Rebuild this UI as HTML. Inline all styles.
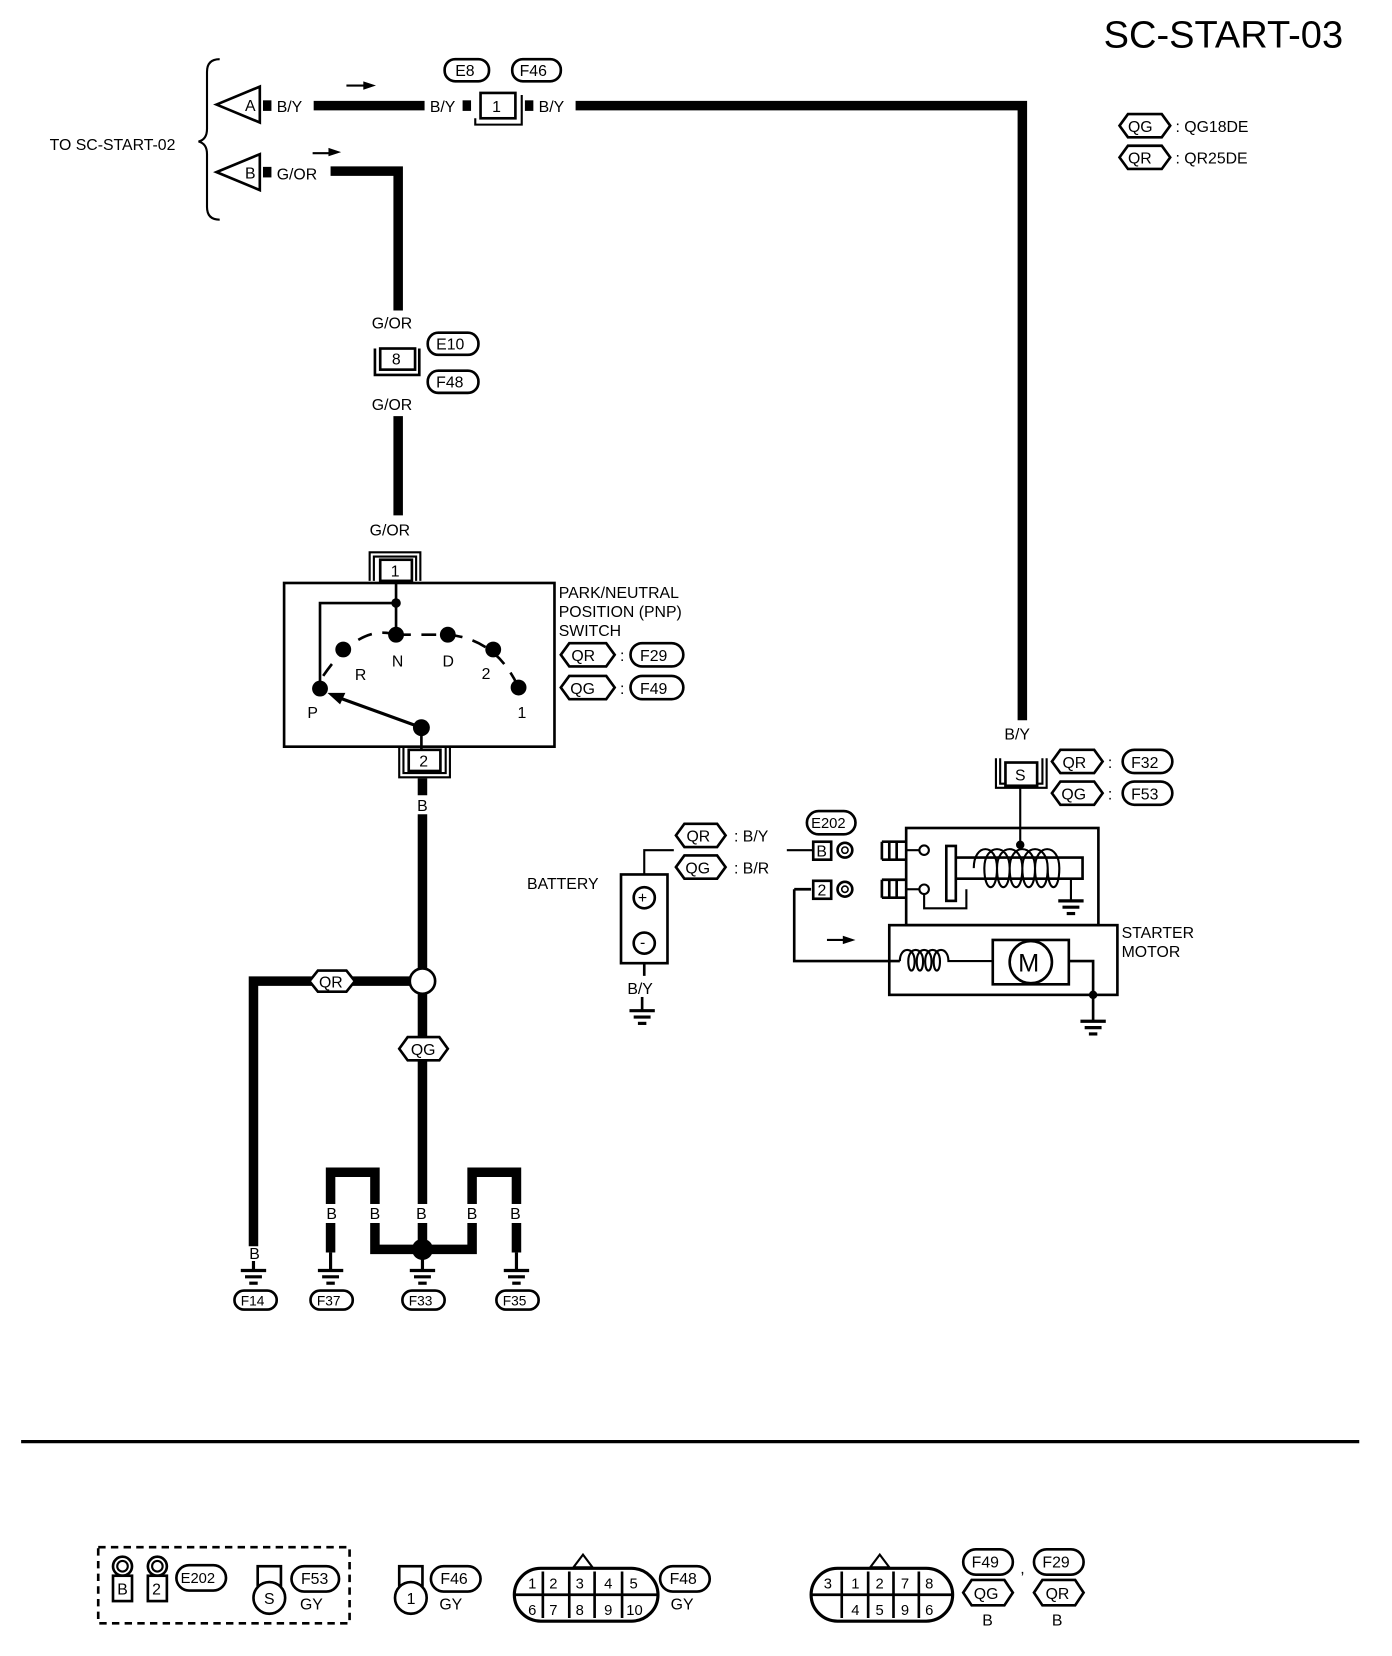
<!DOCTYPE html>
<html><head><meta charset="utf-8"><style>
html,body{margin:0;padding:0;background:#fff}
svg{display:block}
text{font-family:"Liberation Sans",sans-serif;fill:#000}
</style></head><body>
<svg width="1392" height="1656" viewBox="0 0 1318 1568" preserveAspectRatio="none" xmlns="http://www.w3.org/2000/svg">
<defs>
<g id="gnd"><line x1="-12" y1="0" x2="12" y2="0" stroke="#000" stroke-width="3"/><line x1="-8" y1="6" x2="8" y2="6" stroke="#000" stroke-width="3"/><line x1="-4" y1="12" x2="4" y2="12" stroke="#000" stroke-width="3"/></g>
</defs>
<rect width="1318" height="1568" fill="#fff"/>
<g font-size="15">
<!-- title -->
<text x="1045" y="45" font-size="36">SC-START-03</text>
<!-- legend -->
<polygon points="1060,119 1068,108 1100,108 1108,119 1100,130 1068,130" fill="none" stroke="#000" stroke-width="2.5"/>
<text x="1068" y="125">QG</text><text x="1113" y="125">: QG18DE</text>
<polygon points="1060,149 1068,138 1100,138 1108,149 1100,160 1068,160" fill="none" stroke="#000" stroke-width="2.5"/>
<text x="1068" y="155">QR</text><text x="1113" y="155">: QR25DE</text>

<!-- brace -->
<path d="M208,56 Q196,56 196,68 L196,122 Q196,132 188,134 Q196,136 196,146 L196,196 Q196,208 208,208" fill="none" stroke="#000" stroke-width="2"/>
<text x="47" y="142">TO SC-START-02</text>
<!-- A -->
<polygon points="205,99 246,82 246,116" fill="none" stroke="#000" stroke-width="2.5"/>
<text x="232" y="105">A</text>
<rect x="249" y="95" width="8" height="10" fill="#000"/>
<text x="262" y="106">B/Y</text>
<line x1="297" y1="100" x2="402" y2="100" stroke="#000" stroke-width="9"/>
<line x1="328" y1="81" x2="345" y2="81" stroke="#000" stroke-width="2"/><polygon points="356,81 344,77 344,85"/>
<text x="407" y="106">B/Y</text>
<rect x="438" y="95" width="8" height="10" fill="#000"/>
<rect x="455" y="88" width="33" height="24" fill="#fff" stroke="#000" stroke-width="2.5"/>
<path d="M450,112 L450,118 L494,118 L494,90" fill="none" stroke="#000" stroke-width="2"/>
<text x="466" y="106">1</text>
<rect x="497" y="95" width="8" height="10" fill="#000"/>
<text x="510" y="106">B/Y</text>
<rect x="421" y="56" width="42" height="21" rx="10" fill="#fff" stroke="#000" stroke-width="2.5"/><text x="431" y="72">E8</text>
<rect x="485" y="56" width="46" height="21" rx="10" fill="#fff" stroke="#000" stroke-width="2.5"/><text x="492" y="72">F46</text>
<path d="M545,100 L968,100 L968,682" fill="none" stroke="#000" stroke-width="9"/>
<!-- B -->
<polygon points="205,163 246,146 246,180" fill="none" stroke="#000" stroke-width="2.5"/>
<text x="232" y="169">B</text>
<rect x="249" y="158" width="8" height="10" fill="#000"/>
<text x="262" y="170">G/OR</text>
<line x1="296" y1="145" x2="312" y2="145" stroke="#000" stroke-width="2"/><polygon points="323,144 311,140 311,148"/>
<path d="M313,162 L377,162 L377,294" fill="none" stroke="#000" stroke-width="9"/>
<text x="352" y="311">G/OR</text>
<rect x="360" y="330" width="33" height="20" fill="#fff" stroke="#000" stroke-width="2.5"/><text x="371" y="345">8</text>
<path d="M355,330 L355,355 L397,355 L397,330" fill="none" stroke="#000" stroke-width="2.5"/>
<rect x="405" y="315" width="48" height="21" rx="10" fill="#fff" stroke="#000" stroke-width="2.5"/><text x="413" y="331">E10</text>
<rect x="405" y="351" width="48" height="21" rx="10" fill="#fff" stroke="#000" stroke-width="2.5"/><text x="413" y="367">F48</text>
<text x="352" y="388">G/OR</text>
<line x1="377" y1="394" x2="377" y2="488" stroke="#000" stroke-width="9"/>
<text x="350" y="507">G/OR</text>
<path d="M350,550 L350,523 L398,523 L398,550 M354,550 L354,527 L394,527 L394,550" fill="none" stroke="#000" stroke-width="2"/>
<rect x="360" y="530" width="30" height="20" fill="#fff" stroke="#000" stroke-width="2.5"/><text x="370" y="546">1</text>

<!-- PNP -->
<rect x="269" y="552" width="256" height="155" fill="none" stroke="#000" stroke-width="2.5"/>
<text x="529" y="566">PARK/NEUTRAL</text><text x="529" y="584">POSITION (PNP)</text><text x="529" y="602">SWITCH</text>
<polygon points="531,620 539,609 574,609 582,620 574,631 539,631" fill="none" stroke="#000" stroke-width="2.5"/><text x="541" y="626">QR</text><text x="587" y="626">:</text>
<rect x="597" y="609" width="50" height="22" rx="11" fill="none" stroke="#000" stroke-width="2.5"/><text x="606" y="626">F29</text>
<polygon points="531,651 539,640 574,640 582,651 574,662 539,662" fill="none" stroke="#000" stroke-width="2.5"/><text x="540" y="657">QG</text><text x="587" y="657">:</text>
<rect x="597" y="640" width="50" height="22" rx="11" fill="none" stroke="#000" stroke-width="2.5"/><text x="606" y="657">F49</text>
<path d="M375,552 L375,601 M375,571 L303,571 L303,646" fill="none" stroke="#000" stroke-width="2.5"/>
<circle cx="375" cy="571" r="4.5"/>
<path d="M306,640 Q340,590 375,601 M375,601 L424,601 M424,601 Q470,605 491,651" fill="none" stroke="#000" stroke-width="2.5" stroke-dasharray="14,10"/>
<circle cx="303" cy="652" r="7.5"/><circle cx="325" cy="615" r="7.5"/><circle cx="375" cy="601" r="7.5"/><circle cx="424" cy="601" r="7.5"/><circle cx="467" cy="615" r="7.5"/><circle cx="491" cy="651" r="7.5"/>
<text x="336" y="644">R</text><text x="371" y="631">N</text><text x="419" y="631">D</text><text x="456" y="643">2</text><text x="490" y="680">1</text><text x="291" y="680">P</text>
<line x1="399" y1="689" x2="322" y2="661" stroke="#000" stroke-width="3"/><polygon points="310,656 327,656 322,667"/>
<circle cx="399" cy="689" r="8"/>
<line x1="399" y1="689" x2="399" y2="712" stroke="#000" stroke-width="2.5"/>
<path d="M378,708 L378,736 L426,736 L426,708 M382,708 L382,732 L422,732 L422,708" fill="none" stroke="#000" stroke-width="2"/>
<rect x="387" y="710" width="30" height="20" fill="#fff" stroke="#000" stroke-width="2.5"/><text x="397" y="726">2</text>
<line x1="400" y1="737" x2="400" y2="917" stroke="#000" stroke-width="9"/>
<rect x="390" y="753" width="20" height="18" fill="#fff"/><text x="395" y="768">B</text>
<circle cx="400" cy="929" r="12" fill="#fff" stroke="#000" stroke-width="2.5"/>
<path d="M388,929 L240,929 L240,1180" fill="none" stroke="#000" stroke-width="9"/>
<polygon points="293,929 301,919 328,919 336,929 328,939 301,939" fill="#fff" stroke="#000" stroke-width="2.5"/><text x="302" y="935">QR</text>
<line x1="400" y1="941" x2="400" y2="1140" stroke="#000" stroke-width="9"/>
<polygon points="378,993 386,982 416,982 424,993 416,1004 386,1004" fill="#fff" stroke="#000" stroke-width="2.5"/><text x="389" y="999">QG</text>
<!-- grounds bottom -->
<text x="236" y="1192">B</text>
<line x1="240" y1="1194" x2="240" y2="1202" stroke="#000" stroke-width="3"/><use href="#gnd" x="240" y="1203"/>
<rect x="222" y="1222" width="40" height="18" rx="9" fill="none" stroke="#000" stroke-width="2.5"/><text x="228" y="1236" font-size="13">F14</text>
<path d="M313,1186 L313,1110 L355,1110 L355,1183 L447,1183 L447,1110 L489,1110 L489,1186" fill="none" stroke="#000" stroke-width="9"/>
<line x1="400" y1="1140" x2="400" y2="1192" stroke="#000" stroke-width="9"/>
<rect x="304" y="1140" width="22" height="18" fill="#fff"/><text x="309" y="1154">B</text>
<rect x="345" y="1140" width="22" height="18" fill="#fff"/><text x="350" y="1154">B</text>
<rect x="389" y="1140" width="22" height="18" fill="#fff"/><text x="394" y="1154">B</text>
<rect x="437" y="1140" width="22" height="18" fill="#fff"/><text x="442" y="1154">B</text>
<rect x="478" y="1140" width="22" height="18" fill="#fff"/><text x="483" y="1154">B</text>
<circle cx="400" cy="1183" r="10"/>
<line x1="313" y1="1186" x2="313" y2="1203" stroke="#000" stroke-width="3"/><use href="#gnd" x="313" y="1203"/>
<line x1="400" y1="1192" x2="400" y2="1203" stroke="#000" stroke-width="3"/><use href="#gnd" x="400" y="1203"/>
<line x1="489" y1="1186" x2="489" y2="1203" stroke="#000" stroke-width="3"/><use href="#gnd" x="489" y="1203"/>
<rect x="294" y="1222" width="40" height="18" rx="9" fill="none" stroke="#000" stroke-width="2.5"/><text x="300" y="1236" font-size="13">F37</text>
<rect x="381" y="1222" width="40" height="18" rx="9" fill="none" stroke="#000" stroke-width="2.5"/><text x="387" y="1236" font-size="13">F33</text>
<rect x="470" y="1222" width="40" height="18" rx="9" fill="none" stroke="#000" stroke-width="2.5"/><text x="476" y="1236" font-size="13">F35</text>

<!-- right side S connector -->
<text x="951" y="700">B/Y</text>
<path d="M943,718 L943,746 L991,746 L991,718 M947,718 L947,742 L987,742 L987,718" fill="none" stroke="#000" stroke-width="2"/>
<rect x="952" y="722" width="30" height="22" fill="#fff" stroke="#000" stroke-width="2.5"/><text x="961" y="739">S</text>
<polygon points="996,721 1004,710 1036,710 1044,721 1036,732 1004,732" fill="none" stroke="#000" stroke-width="2.5"/><text x="1006" y="727">QR</text><text x="1049" y="727">:</text>
<rect x="1063" y="710" width="47" height="22" rx="11" fill="none" stroke="#000" stroke-width="2.5"/><text x="1071" y="727">F32</text>
<polygon points="996,751 1004,740 1036,740 1044,751 1036,762 1004,762" fill="none" stroke="#000" stroke-width="2.5"/><text x="1005" y="757">QG</text><text x="1049" y="757">:</text>
<rect x="1063" y="740" width="47" height="22" rx="11" fill="none" stroke="#000" stroke-width="2.5"/><text x="1071" y="757">F53</text>
<line x1="966" y1="746" x2="966" y2="800" stroke="#000" stroke-width="2"/>
<!-- solenoid -->
<rect x="858" y="784" width="182" height="92" fill="none" stroke="#000" stroke-width="2.5"/>
<rect x="842" y="876" width="216" height="66" fill="none" stroke="#000" stroke-width="2.5"/>
<text x="1062" y="888">STARTER</text><text x="1062" y="906">MOTOR</text>
<path d="M835,797 H857 M835,814 H857 M835,797 V814 M842,797 V814 M849,797 V814" stroke="#000" stroke-width="2.5" fill="none"/>
<path d="M835,833 H857 M835,850 H857 M835,833 V850 M842,833 V850 M849,833 V850" stroke="#000" stroke-width="2.5" fill="none"/>
<line x1="857" y1="805" x2="871" y2="805" stroke="#000" stroke-width="2"/><circle cx="875" cy="805" r="4.5" fill="#fff" stroke="#000" stroke-width="2"/>
<line x1="857" y1="842" x2="871" y2="842" stroke="#000" stroke-width="2"/><circle cx="875" cy="842" r="4.5" fill="#fff" stroke="#000" stroke-width="2"/>
<path d="M875,847 L875,860 L915,860 L915,842" fill="none" stroke="#000" stroke-width="2"/>
<rect x="896" y="801" width="9" height="52" fill="#fff" stroke="#000" stroke-width="2.5"/>
<path d="M905,812 L1025,812 L1025,832 L905,832" fill="none" stroke="#000" stroke-width="2.5"/>
<path d="M922,822 C922,798 944,798 944,822 C944,846 932,846 932,822 C932,798 956,798 956,822 C956,846 944,846 944,822 C944,798 968,798 968,822 C968,846 956,846 956,822 C956,798 980,798 980,822 C980,846 968,846 968,822 C968,798 992,798 992,822 C992,846 980,846 980,822 C980,798 1003,798 1003,822 C1003,846 992,846 992,822" fill="none" stroke="#000" stroke-width="2"/>
<circle cx="966" cy="800" r="4"/>
<line x1="1014" y1="832" x2="1014" y2="852" stroke="#000" stroke-width="2"/>
<use href="#gnd" x="1014" y="853"/>
<!-- motor -->
<path d="M752,842 L768,842 M752,842 L752,910 L852,910" fill="none" stroke="#000" stroke-width="2.5"/>
<line x1="783" y1="890" x2="800" y2="890" stroke="#000" stroke-width="2"/><polygon points="810,890 798,886 798,894"/>
<path d="M852,910 C852,896 866,896 866,910 C866,922 860,922 860,910 C860,896 874,896 874,910 C874,922 868,922 868,910 C868,896 882,896 882,910 C882,922 876,922 876,910 C876,896 890,896 890,910 C890,922 884,922 884,910 C884,896 898,896 898,910 L940,910" fill="none" stroke="#000" stroke-width="2"/>
<rect x="940" y="890" width="72" height="42" fill="none" stroke="#000" stroke-width="2.5"/>
<circle cx="976" cy="911" r="20" fill="#fff" stroke="#000" stroke-width="2.5"/><text x="964" y="920" font-size="24">M</text>
<path d="M1012,910 L1035,910 L1035,966" fill="none" stroke="#000" stroke-width="2.5"/>
<circle cx="1035" cy="942" r="4"/><use href="#gnd" x="1035" y="967"/>
<!-- E202 and battery -->
<rect x="764" y="768" width="46" height="22" rx="11" fill="none" stroke="#000" stroke-width="2.5"/><text x="768" y="784" font-size="14">E202</text>
<rect x="770" y="797" width="17" height="17" fill="none" stroke="#000" stroke-width="2.5"/><text x="773" y="811">B</text>
<circle cx="800" cy="805" r="7" fill="none" stroke="#000" stroke-width="2.5"/><circle cx="800" cy="805" r="3" fill="none" stroke="#000" stroke-width="1.5"/>
<rect x="770" y="834" width="17" height="17" fill="none" stroke="#000" stroke-width="2.5"/><text x="774" y="848">2</text>
<circle cx="800" cy="842" r="7" fill="none" stroke="#000" stroke-width="2.5"/><circle cx="800" cy="842" r="3" fill="none" stroke="#000" stroke-width="1.5"/>
<line x1="745" y1="805" x2="770" y2="805" stroke="#000" stroke-width="2"/>
<polygon points="640,791 648,780 679,780 687,791 679,802 648,802" fill="none" stroke="#000" stroke-width="2.5"/><text x="650" y="797">QR</text><text x="695" y="797">:  B/Y</text>
<polygon points="640,821 648,810 679,810 687,821 679,832 648,832" fill="none" stroke="#000" stroke-width="2.5"/><text x="649" y="827">QG</text><text x="695" y="827">:  B/R</text>
<path d="M638,805 L610,805 L610,828" fill="none" stroke="#000" stroke-width="2"/>
<rect x="588" y="828" width="44" height="84" fill="none" stroke="#000" stroke-width="2.5"/>
<circle cx="610" cy="850" r="10" fill="none" stroke="#000" stroke-width="2.5"/><text x="604" y="855">+</text>
<circle cx="610" cy="893" r="10" fill="none" stroke="#000" stroke-width="2.5"/><text x="606" y="897">-</text>
<text x="499" y="842">BATTERY</text>
<line x1="610" y1="912" x2="610" y2="924" stroke="#000" stroke-width="2.5"/>
<text x="594" y="941">B/Y</text>
<line x1="608" y1="944" x2="608" y2="956" stroke="#000" stroke-width="2.5"/><use href="#gnd" x="608" y="957"/>

<!-- divider -->
<line x1="20" y1="1365" x2="1287" y2="1365" stroke="#000" stroke-width="3"/>

<!-- bottom connectors -->
<rect x="93" y="1465" width="238" height="72" fill="none" stroke="#000" stroke-width="2.5" stroke-dasharray="7,5"/>
<circle cx="116" cy="1483" r="9" fill="none" stroke="#000" stroke-width="2.5"/><circle cx="116" cy="1483" r="5" fill="none" stroke="#000" stroke-width="2"/>
<rect x="107" y="1492" width="18" height="24" fill="none" stroke="#000" stroke-width="2.5"/><text x="111" y="1510">B</text>
<circle cx="149" cy="1483" r="9" fill="none" stroke="#000" stroke-width="2.5"/><circle cx="149" cy="1483" r="5" fill="none" stroke="#000" stroke-width="2"/>
<rect x="140" y="1492" width="18" height="24" fill="none" stroke="#000" stroke-width="2.5"/><text x="144" y="1510">2</text>
<rect x="167" y="1482" width="47" height="24" rx="12" fill="none" stroke="#000" stroke-width="2.5"/><text x="171" y="1499" font-size="14">E202</text>
<rect x="244" y="1483" width="22" height="18" fill="none" stroke="#000" stroke-width="2.5"/>
<circle cx="255" cy="1513" r="15" fill="#fff" stroke="#000" stroke-width="2.5"/><text x="250" y="1519">S</text>
<rect x="276" y="1483" width="45" height="24" rx="12" fill="none" stroke="#000" stroke-width="2.5"/><text x="285" y="1500">F53</text>
<text x="284" y="1524">GY</text>
<rect x="378" y="1483" width="22" height="18" fill="none" stroke="#000" stroke-width="2.5"/>
<circle cx="389" cy="1513" r="15" fill="#fff" stroke="#000" stroke-width="2.5"/><text x="385" y="1519">1</text>
<rect x="408" y="1483" width="47" height="24" rx="12" fill="none" stroke="#000" stroke-width="2.5"/><text x="417" y="1500">F46</text>
<text x="416" y="1524">GY</text>
<!-- F48 10-pin -->
<path d="M512,1485 L598,1485 A25,25 0 0 1 598,1535 L512,1535 A25,25 0 0 1 512,1485 Z" fill="none" stroke="#000" stroke-width="3"/>
<line x1="487" y1="1510" x2="622" y2="1510" stroke="#000" stroke-width="2.5"/>
<path d="M514,1488 V1532 M539,1488 V1532 M563,1488 V1532 M589,1488 V1532" stroke="#000" stroke-width="2.5"/>
<path d="M527,1488 V1532 M551,1488 V1532 M576,1488 V1532" stroke="#000" stroke-width="0"/>
<polygon points="543,1484 552,1472 561,1484" fill="#fff" stroke="#000" stroke-width="2"/>
<g font-size="14"><text x="500" y="1504">1</text><text x="520" y="1504">2</text><text x="545" y="1504">3</text><text x="572" y="1504">4</text><text x="596" y="1504">5</text>
<text x="500" y="1529">6</text><text x="520" y="1529">7</text><text x="545" y="1529">8</text><text x="572" y="1529">9</text><text x="593" y="1529">10</text></g>
<path d="M502,1488 V1532" stroke="#000" stroke-width="0"/>
<rect x="625" y="1483" width="47" height="24" rx="12" fill="none" stroke="#000" stroke-width="2.5"/><text x="634" y="1500">F48</text>
<text x="635" y="1524">GY</text>
<!-- 8-pin -->
<path d="M793,1485 L877,1485 A25,25 0 0 1 877,1535 L793,1535 A25,25 0 0 1 793,1485 Z" fill="none" stroke="#000" stroke-width="3"/>
<line x1="768" y1="1510" x2="902" y2="1510" stroke="#000" stroke-width="2.5"/>
<path d="M797,1488 V1510 M822,1488 V1532 M846,1488 V1532 M870,1488 V1532 M797,1510 V1532" stroke="#000" stroke-width="2.5"/>
<path d="M809,1488 V1510 M858,1488 V1532" stroke="#000" stroke-width="0"/>
<polygon points="824,1484 833,1472 842,1484" fill="#fff" stroke="#000" stroke-width="2"/>
<g font-size="14"><text x="780" y="1504">3</text><text x="806" y="1504">1</text><text x="829" y="1504">2</text><text x="853" y="1504">7</text><text x="876" y="1504">8</text>
<text x="806" y="1529">4</text><text x="829" y="1529">5</text><text x="853" y="1529">9</text><text x="876" y="1529">6</text></g>
<rect x="912" y="1467" width="47" height="24" rx="12" fill="none" stroke="#000" stroke-width="2.5"/><text x="920" y="1484">F49</text>
<text x="966" y="1490">,</text>
<rect x="979" y="1467" width="47" height="24" rx="12" fill="none" stroke="#000" stroke-width="2.5"/><text x="987" y="1484">F29</text>
<polygon points="912,1508 920,1496 951,1496 959,1508 951,1520 920,1520" fill="none" stroke="#000" stroke-width="2.5"/><text x="922" y="1514">QG</text>
<polygon points="979,1508 987,1496 1018,1496 1026,1508 1018,1520 987,1520" fill="none" stroke="#000" stroke-width="2.5"/><text x="990" y="1514">QR</text>
<text x="930" y="1539">B</text><text x="996" y="1539">B</text>
</g>
</svg>
</body></html>
